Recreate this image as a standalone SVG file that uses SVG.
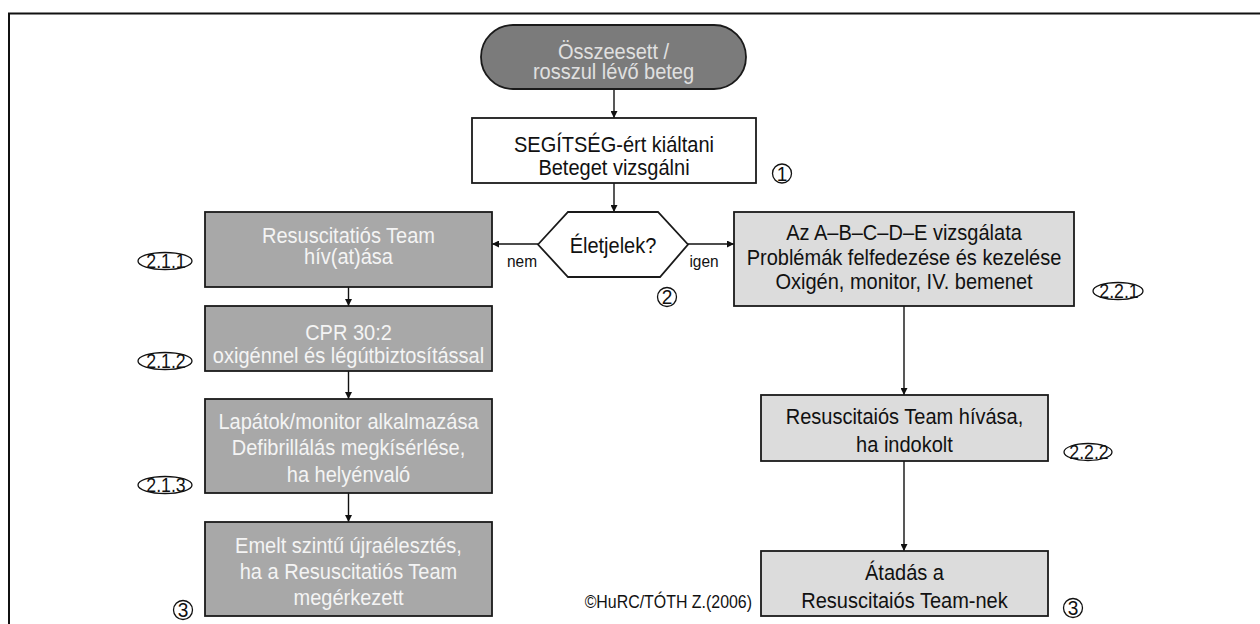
<svg xmlns="http://www.w3.org/2000/svg" width="1260" height="624" viewBox="0 0 1260 624">
<style>
text{font-family:"Liberation Sans",Arial,sans-serif;text-anchor:middle}
.t{font-size:22px;fill:#111}
.w{font-size:22px;fill:#f4f4f4}
.p{font-size:22px;fill:#e0e0e0}
.s{font-size:17px;fill:#111}
.n{font-size:21px;fill:#111}
.e{font-size:19.5px;fill:#111}
.box{stroke:#1a1a1a;stroke-width:1.8}
.dark{fill:#7b7b7b}
.mid{fill:#a8a8a8}
.light{fill:#dcdcdc}
.white{fill:#fff}
.mk{fill:none;stroke:#111;stroke-width:1.3}
.c{fill:none;stroke:#111;stroke-width:1.4}
</style>
<defs>
<marker id="ah" viewBox="0 0 10 10" refX="10" refY="5" markerWidth="7" markerHeight="7" markerUnits="userSpaceOnUse" orient="auto">
<path d="M0,0 L10,5 L0,10 z" fill="#111"/>
</marker>
</defs>
<rect width="1260" height="624" fill="#fff"/>
<path d="M9,624 V13.5 H1260" fill="none" stroke="#111" stroke-width="2"/>

<g id="connectors">
<line class="c" x1="614" y1="89" x2="614" y2="118" marker-end="url(#ah)"/>
<line class="c" x1="614" y1="183" x2="614" y2="212" marker-end="url(#ah)"/>
<line class="c" x1="538" y1="244" x2="492" y2="244" marker-end="url(#ah)"/>
<line class="c" x1="688" y1="244" x2="734" y2="244" marker-end="url(#ah)"/>
<line class="c" x1="348.5" y1="287" x2="348.5" y2="306" marker-end="url(#ah)"/>
<line class="c" x1="348.5" y1="371" x2="348.5" y2="399" marker-end="url(#ah)"/>
<line class="c" x1="348.5" y1="493" x2="348.5" y2="522" marker-end="url(#ah)"/>
<line class="c" x1="904" y1="306" x2="904" y2="395" marker-end="url(#ah)"/>
<line class="c" x1="904" y1="461" x2="904" y2="551" marker-end="url(#ah)"/>
<text class="s" transform="matrix(0.91 0 0 1 522 0)" x="0" y="267">nem</text>
<text class="s" transform="matrix(0.91 0 0 1 704 0)" x="0" y="267">igen</text>
</g>

<g id="start">
<rect class="box dark" x="481" y="25" width="265" height="64" rx="32" ry="32"/>
<text class="p" transform="matrix(0.91 0 0 1 613.5 0)" x="0" y="59">Összeesett /</text>
<text class="p" transform="matrix(0.91 0 0 1 613.5 0)" x="0" y="79">rosszul lévő beteg</text>
</g>

<g id="step1">
<rect class="box white" x="472" y="118" width="284" height="65"/>
<text class="t" transform="matrix(0.91 0 0 1 614 0)" x="0" y="152">SEGÍTSÉG-ért kiáltani</text>
<text class="t" transform="matrix(0.91 0 0 1 614 0)" x="0" y="175.5">Beteget vizsgálni</text>
<circle class="mk" cx="782" cy="173.5" r="9.5"/>
<text class="n" transform="matrix(0.91 0 0 1 782 0)" x="0" y="181">1</text>
</g>

<g id="decision">
<polygon class="box white" points="538,244.5 568,212 658,212 688,244.5 660,277 568,277"/>
<text class="t" transform="matrix(0.91 0 0 1 613 0)" x="0" y="253">Életjelek?</text>
<circle class="mk" cx="667" cy="297" r="9.5"/>
<text class="n" transform="matrix(0.91 0 0 1 667 0)" x="0" y="304.5">2</text>
</g>

<g id="s211">
<rect class="box mid" x="205" y="212" width="287" height="75"/>
<text class="w" transform="matrix(0.91 0 0 1 348.5 0)" x="0" y="243">Resuscitatiós Team</text>
<text class="w" transform="matrix(0.91 0 0 1 348.5 0)" x="0" y="264">hív(at)ása</text>
<ellipse class="mk" cx="165" cy="261" rx="27" ry="8.5"/>
<text class="e" transform="matrix(0.91 0 0 1 166 0)" x="0" y="268">2.1.1</text>
</g>

<g id="s212">
<rect class="box mid" x="205" y="306" width="287" height="65"/>
<text class="w" transform="matrix(0.91 0 0 1 348.5 0)" x="0" y="340">CPR 30:2</text>
<text class="w" transform="matrix(0.91 0 0 1 348.5 0)" x="0" y="363">oxigénnel és légútbiztosítással</text>
<ellipse class="mk" cx="165" cy="361" rx="27" ry="8.5"/>
<text class="e" transform="matrix(0.91 0 0 1 166 0)" x="0" y="368">2.1.2</text>
</g>

<g id="s213">
<rect class="box mid" x="205" y="399" width="287" height="94"/>
<text class="w" transform="matrix(0.91 0 0 1 348.5 0)" x="0" y="429">Lapátok/monitor alkalmazása</text>
<text class="w" transform="matrix(0.91 0 0 1 348.5 0)" x="0" y="455">Defibrillálás megkísérlése,</text>
<text class="w" transform="matrix(0.91 0 0 1 348.5 0)" x="0" y="482">ha helyénvaló</text>
<ellipse class="mk" cx="165" cy="485" rx="27" ry="8.5"/>
<text class="e" transform="matrix(0.91 0 0 1 166 0)" x="0" y="492">2.1.3</text>
</g>

<g id="s3left">
<rect class="box mid" x="205" y="522" width="287" height="94"/>
<text class="w" transform="matrix(0.91 0 0 1 348.5 0)" x="0" y="553">Emelt szintű újraélesztés,</text>
<text class="w" transform="matrix(0.91 0 0 1 348.5 0)" x="0" y="579">ha a Resuscitatiós Team</text>
<text class="w" transform="matrix(0.91 0 0 1 348.5 0)" x="0" y="605">megérkezett</text>
<circle class="mk" cx="183" cy="610" r="9.5"/>
<text class="n" transform="matrix(0.91 0 0 1 183 0)" x="0" y="617.5">3</text>
</g>

<g id="s221">
<rect class="box light" x="734" y="212" width="340" height="94"/>
<text class="t" transform="matrix(0.91 0 0 1 904 0)" x="0" y="240">Az A–B–C–D–E vizsgálata</text>
<text class="t" transform="matrix(0.91 0 0 1 904 0)" x="0" y="265">Problémák felfedezése és kezelése</text>
<text class="t" transform="matrix(0.91 0 0 1 904 0)" x="0" y="289">Oxigén, monitor, IV. bemenet</text>
<ellipse class="mk" cx="1118" cy="291" rx="25" ry="8.5"/>
<text class="e" transform="matrix(0.91 0 0 1 1119 0)" x="0" y="298">2.2.1</text>
</g>

<g id="s222">
<rect class="box light" x="761" y="395" width="287" height="66"/>
<text class="t" transform="matrix(0.91 0 0 1 904.5 0)" x="0" y="424">Resuscitaiós Team hívása,</text>
<text class="t" transform="matrix(0.91 0 0 1 904.5 0)" x="0" y="452">ha indokolt</text>
<ellipse class="mk" cx="1088" cy="452" rx="24" ry="8.5"/>
<text class="e" transform="matrix(0.91 0 0 1 1089 0)" x="0" y="459">2.2.2</text>
</g>

<g id="s3right">
<rect class="box light" x="761" y="551" width="287" height="65"/>
<text class="t" transform="matrix(0.91 0 0 1 904.5 0)" x="0" y="580">Átadás a</text>
<text class="t" transform="matrix(0.91 0 0 1 904.5 0)" x="0" y="608">Resuscitaiós Team-nek</text>
<circle class="mk" cx="1073" cy="608" r="9.5"/>
<text class="n" transform="matrix(0.91 0 0 1 1073 0)" x="0" y="615.5">3</text>
</g>

<text transform="matrix(0.91 0 0 1 752 0)" x="0" y="608" style="font-size:17.5px;fill:#111;text-anchor:end">©HuRC/TÓTH Z.(2006)</text>
</svg>
